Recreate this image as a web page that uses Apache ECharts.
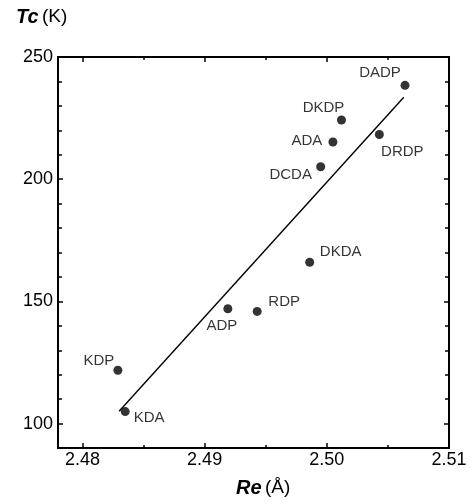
<!DOCTYPE html>
<html>
<head>
<meta charset="utf-8">
<script src="https://cdn.jsdelivr.net/npm/echarts@6/dist/echarts.min.js"></script>
<style>
  html, body { margin: 0; padding: 0; background: #fff; }
  #chart { width: 471px; height: 501px; }
</style>
</head>
<body>
<div id="chart"></div>
<script>
// compounds, Re (Å) and Tc (K)
const names = ['DADP', 'DKDP', 'ADA', 'DCDA', 'DRDP', 'DKDA', 'RDP', 'ADP', 'KDP', 'KDA'];
const reValues = [2.5064, 2.5012, 2.5005, 2.4995, 2.5043, 2.4986, 2.4943, 2.4919, 2.4829, 2.4835];
const tcValues = [238.4, 224.2, 215.2, 205.1, 218.3, 166.0, 145.9, 147.0, 121.8, 104.9];

// fitted line end points
const fitRe = [2.4830, 2.5063];
const fitTc = [105.0, 233.5];

// axis ranges and ticks
const xMin = 2.478, xMax = 2.51;
const yMin = 90, yMax = 250;
const xMajor = [2.48, 2.49, 2.50, 2.51];
const xMinor = [2.485, 2.495, 2.505];
const yMajor = [100, 150, 200, 250];
const yMinor = [90, 110, 120, 130, 140, 160, 170, 180, 190, 210, 220, 230, 240];

// label placement (offset of label centre from the dot)
const labelOffset = {
  DADP: [-25, -12], DKDP: [-18, -12], ADA: [-26, -1], DCDA: [-30, 8],
  DRDP: [23, 17], DKDA: [31, -10], RDP: [27, -10], ADP: [-6, 17],
  KDP: [-19, -9], KDA: [24, 6]
};

const FONT = '"Liberation Sans", Arial, Helvetica, sans-serif';

function makeAxis(dim, pos, ticks, len, labels) {
  const isX = dim === 'x';
  return {
    type: 'value',
    position: pos,
    min: isX ? xMin : yMin,
    max: isX ? xMax : yMax,
    axisLine: { show: true, onZero: false, lineStyle: { color: '#000', width: 2 } },
    axisTick: { show: true, inside: true, length: len, customValues: ticks,
      lineStyle: { color: '#000', width: 1.5 } },
    axisLabel: labels ? {
      show: true,
      customValues: labels,
      margin: isX ? 3 : 5,
      color: '#000',
      fontSize: 18,
      fontFamily: FONT,
      formatter: v => isX ? v.toFixed(2) : String(v)
    } : { show: false },
    splitLine: { show: false }
  };
}

const chart = echarts.init(document.getElementById('chart'));

const points = names.map((n, i) => ({
  name: n,
  value: [reValues[i], tcValues[i]],
  label: { offset: labelOffset[n] }
}));

const titleRich = {
  b: { fontSize: 20, fontWeight: 'bold', fontStyle: 'italic', fontFamily: FONT, fill: '#000' },
  n: { fontSize: 19, fontFamily: FONT, fill: '#000' }
};

chart.setOption({
  animation: false,
  grid: { left: 58, right: 22, top: 57, bottom: 53 },
  xAxis: [
    makeAxis('x', 'bottom', xMajor, 5, xMajor),
    makeAxis('x', 'bottom', xMinor, 3, null),
    makeAxis('x', 'top', xMajor, 5, null),
    makeAxis('x', 'top', xMinor, 3, null)
  ],
  yAxis: [
    makeAxis('y', 'left', yMajor, 5, yMajor),
    makeAxis('y', 'left', yMinor, 4, null),
    makeAxis('y', 'right', yMajor, 5, null),
    makeAxis('y', 'right', yMinor, 4, null)
  ],
  graphic: [
    {
      type: 'text', left: 16, top: 7,
      style: { text: '{b|Tc} {n|(K)}', rich: titleRich }
    },
    {
      type: 'text', left: 236, top: 478,
      style: { text: '{b|Re} {n|(Å)}', rich: titleRich }
    }
  ],
  series: [
    {
      type: 'line',
      data: [[fitRe[0], fitTc[0]], [fitRe[1], fitTc[1]]],
      showSymbol: false,
      lineStyle: { color: '#000', width: 1.4 },
      silent: true
    },
    {
      type: 'scatter',
      data: points,
      symbolSize: 9,
      itemStyle: { color: '#000' },
      label: {
        show: true,
        position: 'inside',
        formatter: '{b}',
        color: '#000',
        fontSize: 15,
        fontFamily: FONT
      }
    }
  ]
});
</script>
</body>
</html>
